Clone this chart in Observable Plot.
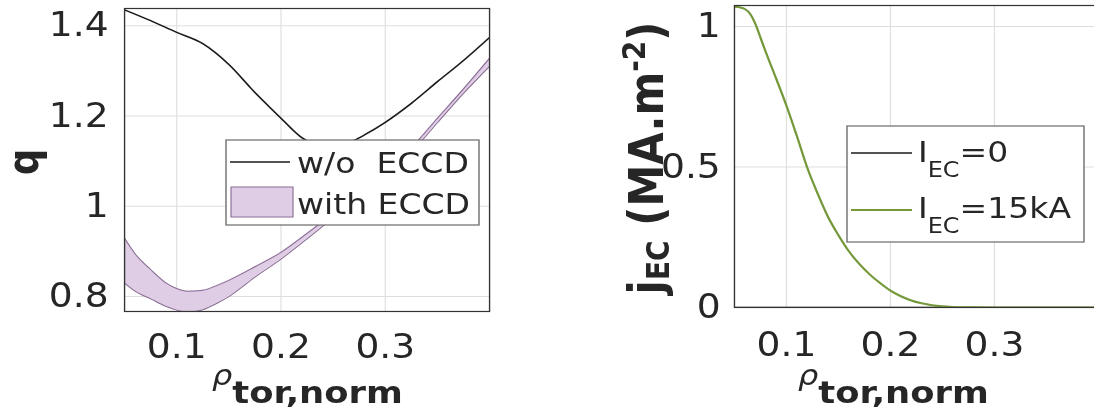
<!DOCTYPE html>
<html><head><meta charset="utf-8">
<script src="https://cdn.jsdelivr.net/npm/d3@7"></script>
<script src="https://cdn.jsdelivr.net/npm/@observablehq/plot@0.6"></script>
<style>
html,body{margin:0;padding:0;background:#fff;}
#wrap{position:relative;width:1094px;height:411px;overflow:hidden;background:#fff;}
#stage{position:absolute;left:0;top:0;height:411px;transform-origin:0 0;}
#stage > svg{position:absolute;top:0;}
</style></head><body>
<div id="wrap"><div id="stage"></div></div>
<script>
// ---- data ----
const xTicks = [0.1, 0.2, 0.3];
const qTicks = [0.8, 1, 1.2, 1.4];
const jTicks = [0, 0.5, 1];

const rhoQ = [0.05, 0.075, 0.1, 0.125, 0.15, 0.175, 0.2, 0.21, 0.22, 0.23, 0.24, 0.25, 0.26, 0.27, 0.28, 0.3, 0.325, 0.35, 0.375, 0.4];
const qNoEccd = [1.435, 1.411, 1.385, 1.36, 1.314, 1.252, 1.195, 1.172, 1.152, 1.139, 1.133, 1.133, 1.137, 1.146, 1.158, 1.186, 1.228, 1.276, 1.323, 1.374];

const rhoBand = [0.05, 0.06, 0.075, 0.09, 0.1, 0.11, 0.125, 0.14, 0.15, 0.175, 0.2, 0.225, 0.25, 0.275, 0.3, 0.325, 0.35, 0.375, 0.4];
const qEccdHigh = [0.929, 0.895, 0.86, 0.83, 0.818, 0.812, 0.814, 0.826, 0.836, 0.866, 0.898, 0.94, 0.985, 1.035, 1.083, 1.13, 1.195, 1.26, 1.328];
const qEccdLow  = [0.83, 0.812, 0.795, 0.778, 0.77, 0.766, 0.771, 0.787, 0.8, 0.843, 0.883, 0.928, 0.975, 1.025, 1.073, 1.12, 1.185, 1.25, 1.31];

const rhoJ = [0.05, 0.055, 0.06, 0.065, 0.07, 0.075, 0.08, 0.09, 0.1, 0.11, 0.12, 0.13, 0.14, 0.15, 0.16, 0.17, 0.18, 0.19, 0.2, 0.21, 0.22, 0.23, 0.24, 0.25, 0.26, 0.27, 0.28, 0.3, 0.35, 0.4];
const jEc15kA = [1.07, 1.068, 1.062, 1.045, 1.01, 0.96, 0.91, 0.815, 0.718, 0.61, 0.497, 0.405, 0.322, 0.257, 0.2, 0.155, 0.118, 0.087, 0.06, 0.04, 0.025, 0.015, 0.008, 0.004, 0.002, 0.001, 0.0005, 0, 0, 0];
const jEc0 = [0, 0, 0, 0, 0, 0, 0, 0, 0, 0, 0, 0, 0, 0, 0, 0, 0, 0, 0, 0, 0, 0, 0, 0, 0, 0, 0, 0, 0, 0];

// ---- layout ----
const S = 1.14; // horizontal stretch of the reference
const stage = document.getElementById("stage");
stage.style.width = (1094 / S) + "px";
stage.style.transform = `scaleX(${S})`;
const font = "DejaVu Sans";
const gridC = "#dedede", frameC = "#333333", ink = "#262626";
const bandFill = "#dfcde6", bandEdge = "#8a6c94", green = "#74983a";
const fmt = d => String(d);

const left = Plot.plot({
  width: 500 / S, height: 411,
  marginLeft: 124 / S, marginRight: 11 / S, marginTop: 8, marginBottom: 100,
  style: {fontFamily: font, fontSize: "33px", color: ink, background: "transparent", overflow: "visible"},
  x: {domain: [0.05, 0.4], label: null},
  y: {domain: [0.767, 1.438], label: null},
  marks: [
    Plot.gridX(xTicks, {stroke: gridC, strokeOpacity: 1}),
    Plot.gridY(qTicks, {stroke: gridC, strokeOpacity: 1}),
    Plot.areaY(rhoBand, {x: rhoBand, y1: qEccdLow, y2: qEccdHigh, fill: bandFill, curve: "monotone-x", clip: true}),
    Plot.line(rhoBand, {x: rhoBand, y: qEccdLow, stroke: bandEdge, strokeWidth: 1, curve: "monotone-x", clip: true}),
    Plot.line(rhoBand, {x: rhoBand, y: qEccdHigh, stroke: bandEdge, strokeWidth: 1, curve: "monotone-x", clip: true}),
    Plot.line(rhoQ, {x: rhoQ, y: qNoEccd, stroke: "#1a1a1a", strokeWidth: 1.5, curve: "monotone-x", clip: true}),
    Plot.frame({stroke: frameC, strokeWidth: 1.2}),
    Plot.axisX({ticks: xTicks, tickFormat: fmt, tickSize: 0, tickPadding: 23, fontSize: 33, label: null}),
    Plot.axisY({ticks: qTicks, tickFormat: fmt, tickSize: 0, tickPadding: 14, fontSize: 33, label: null})
  ]
});
left.style.left = "0px";
stage.appendChild(left);

const right = Plot.plot({
  width: 500 / S, height: 411,
  marginLeft: 124 / S, marginRight: 12 / S, marginTop: 5, marginBottom: 104,
  style: {fontFamily: font, fontSize: "33px", color: ink, background: "transparent", overflow: "visible"},
  x: {domain: [0.05, 0.4], label: null},
  y: {domain: [0, 1.0745], label: null},
  marks: [
    Plot.gridX(xTicks, {stroke: gridC, strokeOpacity: 1}),
    Plot.gridY(jTicks, {stroke: gridC, strokeOpacity: 1}),
    Plot.line(rhoJ, {x: rhoJ, y: jEc0, stroke: "#1a1a1a", strokeWidth: 1.5, clip: true}),
    Plot.line(rhoJ, {x: rhoJ, y: jEc15kA, stroke: green, strokeWidth: 2, curve: "monotone-x", clip: true}),
    Plot.frame({stroke: frameC, strokeWidth: 1.2}),
    Plot.axisX({ticks: xTicks, tickFormat: fmt, tickSize: 0, tickPadding: 25, fontSize: 33, label: null}),
    Plot.axisY({ticks: jTicks, tickFormat: fmt, tickSize: 0, tickPadding: 12, fontSize: 33, label: null})
  ]
});
right.style.left = (610 / S) + "px";
stage.appendChild(right);

// ---- overlay: axis titles and legends ----
const X = px => (px / S).toFixed(2);
const ov = `
<svg xmlns="http://www.w3.org/2000/svg" width="${1094 / S}" height="411" style="position:absolute;left:0;top:0;font-family:'DejaVu Sans';overflow:visible" fill="${ink}">
  <text transform="translate(${X(38)},162) rotate(-90)" text-anchor="middle" font-weight="bold" font-size="37">q</text>
  <text x="${X(212)}" y="385" font-size="28" font-style="italic">ρ<tspan dy="18" font-size="31" font-weight="bold" font-style="normal">tor,norm</tspan></text>

  <text transform="translate(${X(663)},158) rotate(-90)" text-anchor="middle" font-weight="bold" font-size="42">j<tspan font-size="28" dy="5">EC</tspan><tspan dy="-5"> (MA.m</tspan><tspan font-size="28" dy="-16">-2</tspan><tspan dy="16">)</tspan></text>
  <text x="${X(798)}" y="385" font-size="28" font-style="italic">ρ<tspan dy="18" font-size="31" font-weight="bold" font-style="normal">tor,norm</tspan></text>

  <rect x="${X(226)}" y="140" width="${X(253)}" height="85" fill="#fff" stroke="#6a6a6a" stroke-width="1.2"/>
  <line x1="${X(230)}" x2="${X(290)}" y1="162" y2="162" stroke="#1a1a1a" stroke-width="1.5"/>
  <text x="${X(297)}" y="173" font-size="29" style="white-space:pre">w/o  ECCD</text>
  <rect x="${X(231)}" y="187" width="${X(62)}" height="30" fill="${bandFill}" stroke="${bandEdge}" stroke-width="1"/>
  <text x="${X(297)}" y="214" font-size="29">with ECCD</text>

  <rect x="${X(847)}" y="126" width="${X(237)}" height="116" fill="#fff" stroke="#6a6a6a" stroke-width="1.2"/>
  <line x1="${X(851)}" x2="${X(912)}" y1="153" y2="153" stroke="#1a1a1a" stroke-width="1.5"/>
  <text x="${X(918)}" y="162" font-size="29">I<tspan font-size="21" dy="15">EC</tspan><tspan dy="-15">=0</tspan></text>
  <line x1="${X(851)}" x2="${X(912)}" y1="210" y2="210" stroke="${green}" stroke-width="2"/>
  <text x="${X(918)}" y="218" font-size="29">I<tspan font-size="21" dy="15">EC</tspan><tspan dy="-15">=15kA</tspan></text>
</svg>`;
stage.insertAdjacentHTML("beforeend", ov);
</script>
</body></html>
